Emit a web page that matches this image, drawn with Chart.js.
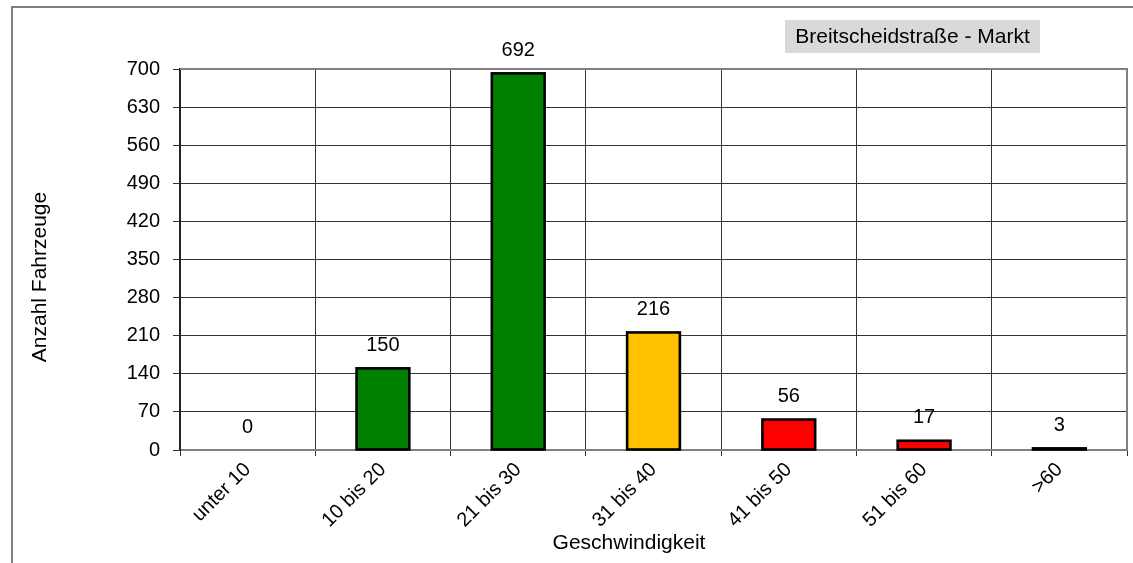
<!DOCTYPE html>
<html>
<head>
<meta charset="utf-8">
<script src="https://cdn.jsdelivr.net/npm/chart.js@4/dist/chart.umd.min.js"></script>
<style>
  html, body { margin: 0; padding: 0; background: #fff; }
  canvas { display: block; }
</style>
</head>
<body>
<canvas id="c" width="1133" height="563"></canvas>
<script>
const categories = ["unter 10", "10 bis 20", "21 bis 30", "31 bis 40", "41 bis 50", "51 bis 60", ">60"];
const vehicleCounts = [0, 150, 692, 216, 56, 17, 3];
const barColors = ["#008000", "#008000", "#008000", "#FFC000", "#FF0000", "#FF0000", "#FF0000"];
const yTickMin = 0;
const yTickMax = 700;
const yTickStep = 70;
const chartTitle = "Breitscheidstraße - Markt";
const xAxisTitle = "Geschwindigkeit";
const yAxisTitle = "Anzahl Fahrzeuge";

const FONT = "Liberation Sans, Arial, sans-serif";

const decorPlugin = {
  id: "decor",
  beforeDraw(chart) {
    const ctx = chart.ctx;
    ctx.save();
    ctx.fillStyle = "#fff";
    ctx.fillRect(0, 0, chart.width, chart.height);
    ctx.strokeStyle = "#808080";
    ctx.lineWidth = 2;
    ctx.strokeRect(12, 7, 1140, 570);
    ctx.restore();
  },
  beforeDatasetsDraw(chart) {
    const ctx = chart.ctx;
    const a = chart.chartArea;
    ctx.save();
    ctx.strokeStyle = "#808080";
    ctx.lineWidth = 2;
    ctx.beginPath();
    ctx.moveTo(a.left, a.top);
    ctx.lineTo(a.right, a.top);
    ctx.lineTo(a.right, a.bottom);
    ctx.stroke();
    ctx.restore();
  },
  afterDatasetsDraw(chart) {
    // Excel-style outline centred on the bar edges
    const ctx = chart.ctx;
    ctx.save();
    ctx.strokeStyle = "#000";
    ctx.lineWidth = 2.6;
    ctx.lineJoin = "miter";
    const meta = chart.getDatasetMeta(0);
    meta.data.forEach((bar, i) => {
      if (vehicleCounts[i] <= 0) return;
      const p = bar.getProps(["x", "y", "base", "width"], true);
      ctx.strokeRect(p.x - p.width / 2, p.y, p.width, p.base - p.y);
    });
    ctx.restore();
  },
  afterDraw(chart) {
    const ctx = chart.ctx;
    ctx.save();
    // value labels
    ctx.font = "20px " + FONT;
    ctx.fillStyle = "#000";
    ctx.textAlign = "center";
    ctx.textBaseline = "middle";
    const meta = chart.getDatasetMeta(0);
    meta.data.forEach((bar, i) => {
      ctx.fillText(String(vehicleCounts[i]), bar.x, bar.y - 23);
    });
    // axis titles
    ctx.font = "21px " + FONT;
    ctx.fillText(xAxisTitle, 629, 543);
    ctx.save();
    ctx.translate(40, 277);
    ctx.rotate(-Math.PI / 2);
    ctx.fillText(yAxisTitle, 0, 0);
    ctx.restore();
    // title box
    ctx.fillStyle = "#D9D9D9";
    ctx.fillRect(785, 20, 255, 33);
    ctx.fillStyle = "#000";
    ctx.fillText(chartTitle, 912.5, 37);
    ctx.restore();
  }
};

new Chart(document.getElementById("c"), {
  type: "bar",
  data: {
    labels: categories,
    datasets: [{
      data: vehicleCounts,
      backgroundColor: barColors,
      borderWidth: 0,
      inflateAmount: 0,
      barPercentage: 0.39,
      categoryPercentage: 1.0
    }]
  },
  options: {
    responsive: false,
    devicePixelRatio: 1,
    animation: false,
    events: [],
    layout: { padding: { top: 69, right: 6, left: 0, bottom: 0 } },
    plugins: { legend: { display: false }, tooltip: { enabled: false }, title: { display: false } },
    scales: {
      x: {
        afterFit(scale) { scale.height = 113; },
        grid: { offset: true, color: "#333", lineWidth: 1, tickLength: 6, drawTicks: true },
        border: { color: "#808080", width: 2 },
        ticks: { color: "#000", font: { family: FONT, size: 20 }, minRotation: 45, maxRotation: 45, padding: 2, autoSkip: false }
      },
      y: {
        min: yTickMin,
        max: yTickMax,
        afterFit(scale) { scale.width = 180; },
        grid: { color: "#333", lineWidth: 1, tickLength: 7, drawTicks: true },
        border: { color: "#222", width: 2 },
        ticks: { stepSize: yTickStep, color: "#000", font: { family: FONT, size: 20 }, padding: 13 }
      }
    }
  },
  plugins: [decorPlugin]
});
</script>
</body>
</html>
